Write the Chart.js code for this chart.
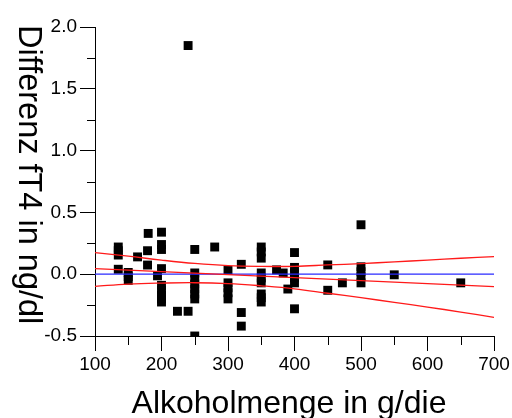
<!DOCTYPE html>
<html>
<head>
<meta charset="utf-8">
<script src="https://cdn.jsdelivr.net/npm/chart.js@4/dist/chart.umd.min.js"></script>
<style>
  html, body { margin: 0; padding: 0; background: #fff; }
  #wrap { width: 512px; height: 418px; }
</style>
</head>
<body>
<div id="wrap"><canvas id="c" width="512" height="418"></canvas></div>
<script>
// Alcohol intake (g/day) and fT4 difference (ng/dl) per subject
const alcohol = [
  135, 135, 135, 135,
  150, 150, 150,
  164, 179, 179, 180, 194,
  200, 200, 200, 200, 200, 200, 200, 200, 200,
  224, 240, 240,
  250, 250, 250, 250, 250, 250, 250, 250,
  280,
  300, 300, 300, 300, 300,
  320, 320, 320,
  350, 350, 350, 350, 350, 350, 350, 350, 350,
  373, 383, 390,
  400, 400, 400, 400, 400, 400,
  450, 450, 472,
  500, 500, 500, 500, 500,
  550, 650
];
const diffFT4 = [
  0.22, 0.19, 0.155, 0.04,
  0.014, -0.02, -0.05,
  0.14, 0.19, 0.074, 0.33, -0.013,
  0.34, 0.24, 0.20, 0.045, -0.09, -0.13, -0.17, -0.20, -0.225,
  -0.30, -0.30, 1.85,
  0.20, 0.01, -0.04, -0.08, -0.12, -0.16, -0.20, -0.50,
  0.22,
  0.03, -0.07, -0.11, -0.15, -0.20,
  0.08, -0.31, -0.42,
  0.22, 0.18, 0.13, 0.01, -0.03, -0.07, -0.16, -0.19, -0.225,
  0.035, 0.01, -0.12,
  0.175, 0.055, 0.01, -0.03, -0.07, -0.28,
  0.075, -0.13, -0.07,
  0.40, 0.06, 0.02, -0.02, -0.07,
  -0.005, -0.07
];

// Regression line with its upper and lower confidence limits
const fitX     = [100, 150, 200, 250, 300, 350, 400, 450, 500, 550, 600, 650, 700];
const fitMid   = [0.045, 0.033, 0.021, 0.009, -0.003, -0.016, -0.028, -0.040, -0.052, -0.064, -0.076, -0.088, -0.100];
const fitUpper = [0.175, 0.146, 0.114, 0.087, 0.069, 0.063, 0.064, 0.075, 0.086, 0.100, 0.114, 0.129, 0.142];
const fitLower = [-0.098, -0.080, -0.072, -0.069, -0.076, -0.094, -0.118, -0.154, -0.190, -0.228, -0.266, -0.306, -0.350];

// Zero reference line
const zeroX = [100, 700];
const zeroY = [0, 0];

// Axis ranges and tick steps
const xRange = [100, 700];
const yRange = [-0.5, 2.0];
const xMajor = 100, xMinor = 50;
const yMajor = 0.5, yMinor = 0.25;

const xTitle = 'Alkoholmenge in g/die';
const yTitle = 'Differenz fT4 in ng/dl';

const FONT = "'Liberation Sans', Arial, sans-serif";

const pts = (xs, ys) => xs.map((x, i) => ({ x: x, y: ys[i] }));

const lineSet = (label, xs, ys, color, order) => ({
  type: 'line', label, data: pts(xs, ys), borderColor: color, borderWidth: 1.3,
  pointRadius: 0, tension: 0.4, fill: false, order
});

// Minor ticks and rotated axis titles
const decor = {
  id: 'decor',
  afterDraw(chart) {
    const ctx = chart.ctx;
    const xs = chart.scales.x, ys = chart.scales.y;
    ctx.save();
    ctx.strokeStyle = '#000';
    ctx.lineWidth = 1;
    const yAxisX = xs.left, xAxisY = ys.bottom;
    for (let v = xRange[0] + xMinor; v < xRange[1]; v += xMajor) {
      const px = Math.round(xs.getPixelForValue(v)) + 0.5;
      ctx.beginPath(); ctx.moveTo(px, xAxisY); ctx.lineTo(px, xAxisY + 9); ctx.stroke();
    }
    for (let v = yRange[0] + yMinor; v < yRange[1]; v += yMajor) {
      const py = Math.round(ys.getPixelForValue(v)) + 0.5;
      ctx.beginPath(); ctx.moveTo(yAxisX, py); ctx.lineTo(yAxisX - 8, py); ctx.stroke();
    }
    ctx.fillStyle = '#000';
    ctx.font = '32px ' + FONT;
    ctx.textAlign = 'center';
    ctx.textBaseline = 'alphabetic';
    ctx.fillText(xTitle, 289, 413);
    ctx.translate(19, 25);
    ctx.rotate(Math.PI / 2);
    ctx.textAlign = 'left';
    ctx.font = '32.5px ' + FONT;
    ctx.fillText(yTitle, 0, 0);
    ctx.restore();
  }
};

new Chart(document.getElementById('c'), {
  data: {
    datasets: [
      lineSet('fit', fitX, fitMid, '#ff1a1a', 1),
      lineSet('upper', fitX, fitUpper, '#ff1a1a', 1),
      lineSet('lower', fitX, fitLower, '#ff1a1a', 1),
      { type: 'line', label: 'zero', data: pts(zeroX, zeroY), borderColor: '#2a2aff',
        borderWidth: 1.3, pointRadius: 0, fill: false, order: 2 },
      { type: 'scatter', label: 'data', data: pts(alcohol, diffFT4),
        pointStyle: 'rect', pointRadius: 6.3, pointHoverRadius: 6.3,
        backgroundColor: '#000', borderWidth: 0, order: 3 }
    ]
  },
  options: {
    responsive: false,
    animation: false,
    events: [],
    layout: { padding: { top: 27, right: 18, left: 0, bottom: 0 } },
    plugins: { legend: { display: false }, tooltip: { enabled: false } },
    scales: {
      x: {
        type: 'linear', min: xRange[0], max: xRange[1],
        border: { display: true, color: '#000', width: 1 },
        grid: { drawOnChartArea: false, drawTicks: true, tickLength: 15, color: '#000', tickColor: '#000' },
        ticks: { stepSize: xMajor, color: '#000', padding: 2, maxRotation: 0,
                 font: { family: FONT, size: 19 }, callback: v => String(v) },
        afterFit: s => { s.height = 82; }
      },
      y: {
        type: 'linear', min: yRange[0], max: yRange[1],
        border: { display: true, color: '#000', width: 1 },
        grid: { drawOnChartArea: false, drawTicks: true, tickLength: 15, color: '#000', tickColor: '#000' },
        ticks: { stepSize: yMajor, color: '#000', padding: 3,
                 font: { family: FONT, size: 19 }, callback: v => v.toFixed(1) },
        afterFit: s => { s.width = 95; }
      }
    }
  },
  plugins: [decor]
});
</script>
</body>
</html>
